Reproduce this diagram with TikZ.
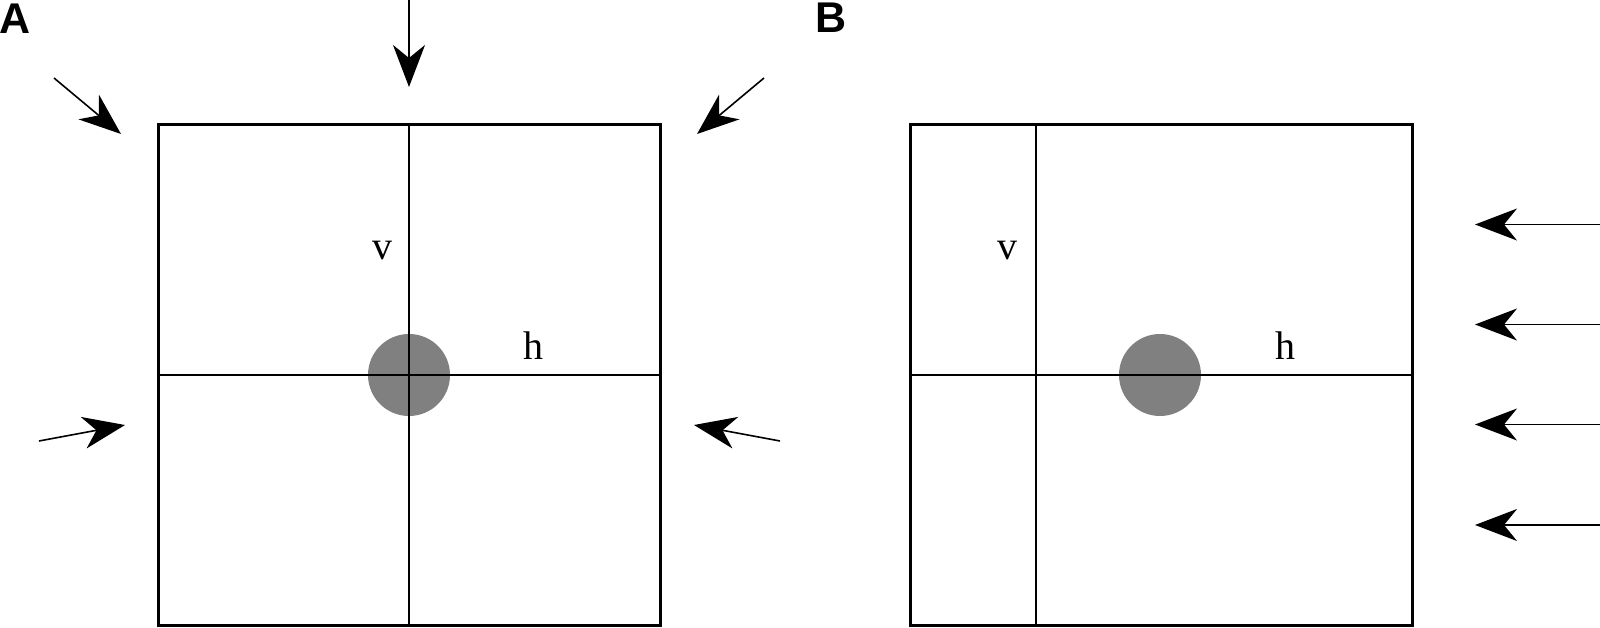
\documentclass[tikz,border=0pt]{standalone}
\usepackage{fontspec}
\setmainfont{Liberation Serif}
\newfontfamily\panelfont{Liberation Sans}
\usetikzlibrary{arrows.meta}
\begin{document}
\begin{tikzpicture}[x=1pt,y=-1pt,
  frame/.style={draw=black,line width=3pt,minimum width=502pt,minimum height=501pt,inner sep=0pt},
  grid/.style={line width=1.6pt},
  dot/.style={circle,fill=black!50,minimum size=82pt,inner sep=0pt},
  lbl/.style={font=\fontsize{40}{40}\selectfont,inner sep=0pt},
  panel/.style={font=\panelfont\bfseries\fontsize{43}{43}\selectfont,inner sep=0pt},
  force/.style={line width=1.6pt,-{Stealth[length=42pt,width=32pt,inset=13pt]}}]
\path[fill=white,use as bounding box] (0,0) rectangle (1600,628);
% panel labels
\node[panel] (labA) at (15,19) {A};
\node[panel] (labB) at (831,18) {B};
% Panel A
\node[dot] (cA) at (409,375) {};
\node[frame] (sqA) at (409,375) {};
\draw[grid] (sqA.north) -- (sqA.south);
\draw[grid] (sqA.west) -- (sqA.east);
\node[lbl] (vA) at (382,251) {v};
\node[lbl] (hA) at (533,346) {h};
% Panel A forces
\coordinate (tS) at (409,0);   \coordinate (tE) at (409,87);
\coordinate (tlS) at (54,78);  \coordinate (tlE) at (121,134);
\coordinate (trS) at (764,78); \coordinate (trE) at (697,134);
\coordinate (lS) at (39,441);  \coordinate (lE) at (125,425);
\coordinate (rS) at (780,441); \coordinate (rE) at (694,425);
\draw[force] (tS) -- (tE);
\draw[force] (tlS) -- (tlE);
\draw[force] (trS) -- (trE);
\draw[force] (lS) -- (lE);
\draw[force] (rS) -- (rE);
% Panel B
\node[dot] (cB) at (1160,375) {};
\node[frame] (sqB) at (1161,375) {};
\coordinate (vBt) at (1036,124.5);
\coordinate (vBb) at (1036,625.5);
\draw[grid] (vBt) -- (vBb);
\draw[grid] (sqB.west) -- (sqB.east);
\node[lbl] (vB) at (1007,251) {v};
\node[lbl] (hB) at (1285,346) {h};
% Panel B forces
\foreach \i/\y in {1/224.5,2/324.5,3/424.5,4/525} {
  \coordinate (bS\i) at (1600,\y);
  \coordinate (bE\i) at (1475,\y);
  \draw[force] (bS\i) -- (bE\i);
}
\end{tikzpicture}
\end{document}
